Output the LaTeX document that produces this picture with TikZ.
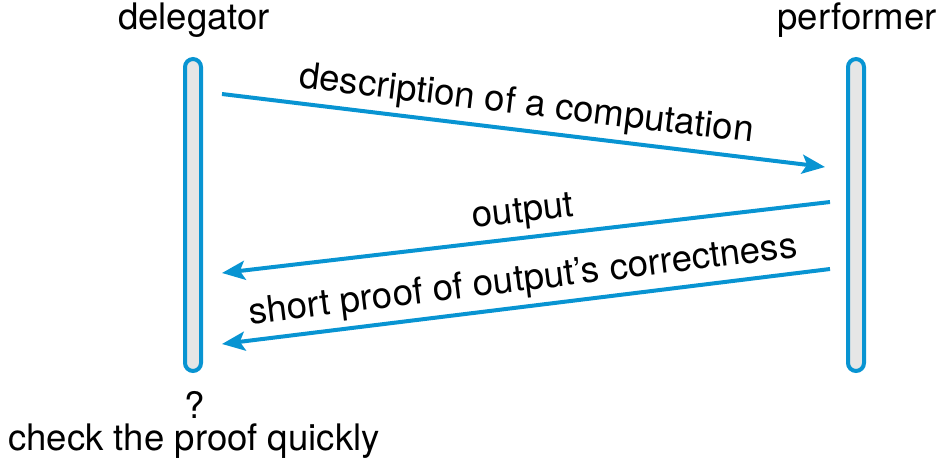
\documentclass[tikz,border=0pt]{standalone}
\usepackage{fontspec}
\setmainfont{TeX Gyre Heros}
\usetikzlibrary{arrows.meta, positioning}
\definecolor{msgblue}{RGB}{8,148,210}
\definecolor{barfill}{RGB}{230,230,230}
\tikzset{x=0.02cm, y=-0.02cm, % one unit is one pixel of the reference
>={Stealth[length=0.46cm, width=0.38cm, inset=0.1cm]}, % big bold arrow heads
every node/.style={font=\fontsize{20.8}{25}\selectfont, inner sep=1pt}, % sets the text size for every label
lifeline/.style={draw=msgblue, line width=0.08cm, fill=barfill, rounded corners=0.16cm,
  minimum width=0.32cm, minimum height=6.24cm, inner sep=0pt}, % the two vertical bars
msg/.style={->, draw=msgblue, line width=0.08cm}, % the messages between the bars
}
\begin{document}
\begin{tikzpicture}
    \useasboundingbox (0,0) rectangle (946,471);
    \node[lifeline] (dlg) at (193,215) {};
    \node[lifeline] (prf) at (856,215) {};
    \node (dlgname) at (194,20) {delegator};
    \node (prfname) at (857,20) {performer};
    \node (ask) at (195,405) {?};
    \node (check) at (194,441) {check the proof quickly};
    \coordinate (d1) at (222,94);
    \coordinate (p1) at (825,167);
    \coordinate (p2) at (830,202);
    \coordinate (d2) at (222,273);
    \coordinate (p3) at (830,269);
    \coordinate (d3) at (222,344);
    \draw (d1) edge[msg] node[sloped, above=2.3pt]{description of a computation} (p1)
    (p2) edge[msg] node[sloped, above=2.3pt]{output} (d2)
    (p3) edge[msg] node[sloped, above=2.3pt]{short proof of output’s correctness} (d3);
\end{tikzpicture}
\end{document}
